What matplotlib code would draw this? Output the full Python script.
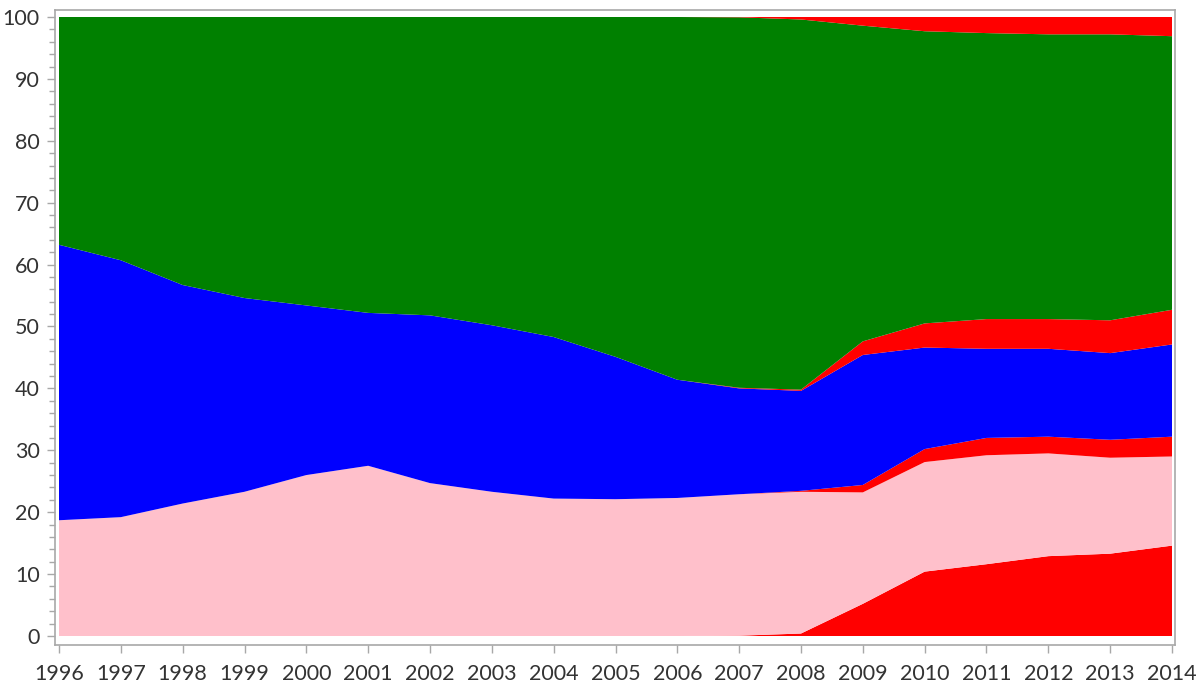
import matplotlib
matplotlib.use("Agg")
import matplotlib.pyplot as plt
import numpy as np
from matplotlib.ticker import MultipleLocator

years = list(range(1996, 2015))

# stacked layers, bottom to top (percent)
red_bottom = [0, 0, 0, 0, 0, 0, 0, 0, 0, 0, 0, 0.05, 0.4, 5.2, 10.4, 11.6, 12.9, 13.3, 14.6]
pink = [18.7, 19.2, 21.4, 23.3, 26.0, 27.5, 24.7, 23.3, 22.2, 22.1, 22.3, 22.85, 22.9, 18.0, 17.7, 17.6, 16.6, 15.5, 14.4]
red_lower = [0, 0, 0, 0, 0, 0, 0, 0, 0, 0, 0, 0, 0.15, 1.2, 2.1, 2.8, 2.7, 2.9, 3.2]
blue = [44.5, 41.5, 35.3, 31.3, 27.4, 24.7, 27.1, 26.9, 26.1, 23.0, 19.1, 17.1, 16.15, 21.0, 16.4, 14.4, 14.2, 14.0, 14.9]
red_middle = [0, 0, 0, 0, 0, 0, 0, 0, 0, 0, 0, 0.1, 0.2, 2.2, 3.9, 4.8, 4.8, 5.3, 5.6]
green = [36.8, 39.3, 43.3, 45.4, 46.6, 47.8, 48.2, 49.8, 51.7, 54.9, 58.6, 59.85, 59.8, 51.0, 47.2, 46.2, 46.0, 46.2, 44.2]
red_top = [0, 0, 0, 0, 0, 0, 0, 0, 0, 0, 0, 0.05, 0.4, 1.4, 2.3, 2.6, 2.8, 2.8, 3.1]

layers = [red_bottom, pink, red_lower, blue, red_middle, green, red_top]
colors = ["#ff0000", "#ffc0cb", "#ff0000", "#0000ff", "#ff0000", "#008000", "#ff0000"]

plt.rcParams['font.family'] = ['Lato', 'DejaVu Sans']

fig = plt.figure(figsize=(12.04, 6.90), dpi=100)
ax = fig.add_axes([55/1204, 1 - 645/690, 1120/1204, 635/690])

ax.stackplot(years, *layers, colors=colors, linewidth=0, antialiased=True)

ax.set_xlim(1996 - 4/61.83, 2014 + 3/61.83)
ax.set_ylim(-9/6.19, 100 + 7/6.19)

ax.set_xticks(years)
ax.set_xticklabels([str(y) for y in years])
ax.yaxis.set_major_locator(MultipleLocator(10))
ax.yaxis.set_minor_locator(MultipleLocator(2))

spine_col = "#a8a8a8"
for s in ax.spines.values():
    s.set_color(spine_col)
    s.set_linewidth(1.2)

ax.tick_params(axis='both', which='major', direction='out', length=6, width=1,
               color=spine_col, labelsize=15.5, labelcolor="#333333", pad=5)
ax.tick_params(axis='y', which='minor', direction='out', length=4, width=1, color=spine_col)
ax.tick_params(axis='x', which='major', pad=8)

fig.savefig("out.png", dpi=100)
